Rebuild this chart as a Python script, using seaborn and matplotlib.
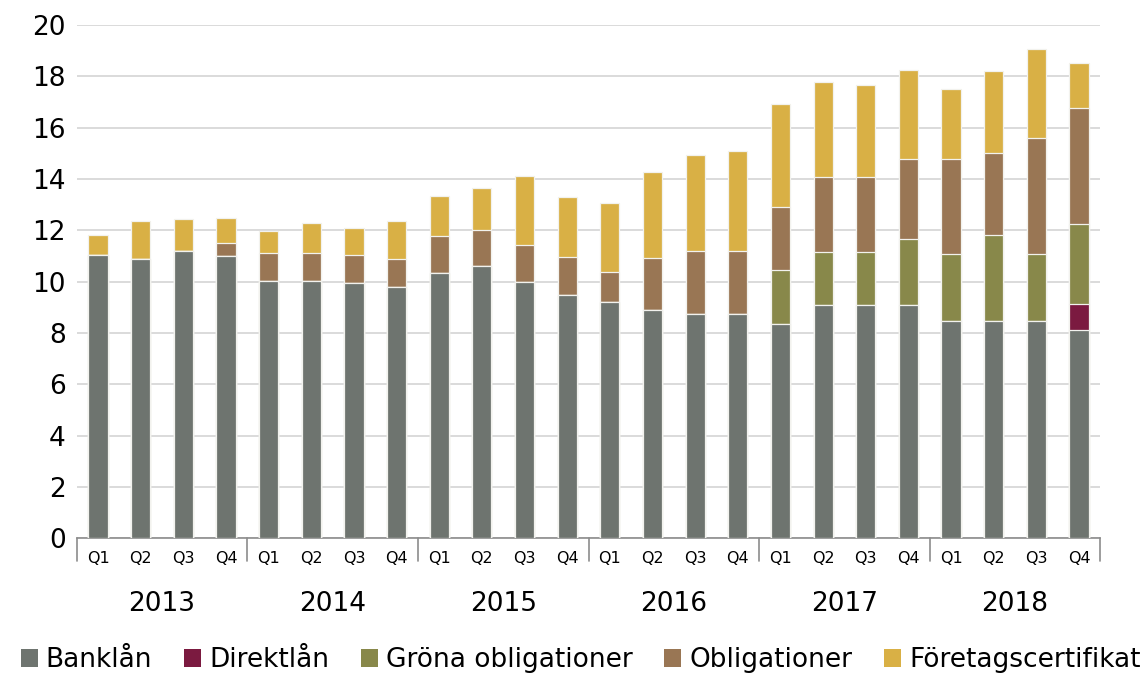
#!/usr/bin/env python3
"""Finansiering per kvartal 2013-2018, staplade staplar (mdkr)."""

import pandas as pd
import matplotlib.pyplot as plt
import matplotlib.transforms as mtransforms
from matplotlib.patches import Patch
import seaborn as sns

# ── data ────────────────────────────────────────────────────────────────
years = ['2013', '2014', '2015', '2016', '2017', '2018']
quarters = ['Q1', 'Q2', 'Q3', 'Q4']

banklan = [11.05, 10.88, 11.18, 10.99, 10.01, 10.01, 9.94, 9.79,
           10.32, 10.59, 9.97, 9.49, 9.20, 8.89, 8.73, 8.73,
           8.36, 9.07, 9.07, 9.07, 8.47, 8.45, 8.47, 8.10]
direktlan = [0] * 23 + [1.02]
grona = [0] * 16 + [2.10, 2.09, 2.09, 2.59, 2.60, 3.38, 2.61, 3.12]
obligationer = [0, 0, 0, 0.51, 1.09, 1.09, 1.11, 1.09,
                1.47, 1.44, 1.45, 1.47, 1.16, 2.05, 2.45, 2.46,
                2.46, 2.91, 2.91, 3.12, 3.72, 3.19, 4.50, 4.51]
foretagscert = [0.78, 1.48, 1.26, 0.97, 0.88, 1.19, 1.05, 1.47,
                1.53, 1.60, 2.71, 2.32, 2.70, 3.32, 3.75, 3.90,
                4.00, 3.70, 3.59, 3.48, 2.70, 3.19, 3.47, 1.78]

series = ['Banklån', 'Direktlån', 'Gröna obligationer', 'Obligationer', 'Företagscertifikat']
colors = ['#6e746f', '#7b1a40', '#88884a', '#997654', '#d9b045']

periods = [f'{y} {q}' for y in years for q in quarters]
df = pd.DataFrame({'period': periods, 'Banklån': banklan, 'Direktlån': direktlan,
                   'Gröna obligationer': grona, 'Obligationer': obligationer,
                   'Företagscertifikat': foretagscert})

# kumulativa nivåer för stapling
cum = df[series].cumsum(axis=1)

sns.set_theme(style='white')
plt.rcParams['font.family'] = ['DejaVu Sans']
plt.rcParams['text.color'] = 'black'
plt.rcParams['xtick.color'] = 'black'
plt.rcParams['ytick.color'] = 'black'

fig = plt.figure(figsize=(11.45, 6.77), dpi=100)
ax = fig.add_axes([0.067, 0.205, 0.894, 0.758])

# rita från översta lagret nedåt så att lägre lager täcker
for name, col in reversed(list(zip(series, colors))):
    sns.barplot(x=df['period'], y=cum[name], order=periods, color=col,
                width=0.45, edgecolor='#f2f2ee', linewidth=0.9,
                saturation=1, ax=ax, zorder=3)

ax.set_ylim(0, 20)
ax.set_xlim(-0.5, len(periods) - 0.5)
ax.set_yticks(range(0, 21, 2))
ax.tick_params(axis='y', labelsize=19, length=0, pad=8, labelcolor='black')
ax.yaxis.grid(True, color='#d4d4d4', linewidth=1.2, zorder=0)
ax.set_axisbelow(True)
ax.set_xlabel('')
ax.set_ylabel('')

for side in ['left', 'right', 'top']:
    ax.spines[side].set_visible(False)
ax.spines['bottom'].set_color('#8c8c8c')
ax.spines['bottom'].set_linewidth(1.2)

ax.set_xticks(range(len(periods)))
ax.set_xticklabels(quarters * len(years), fontsize=11.5)
ax.tick_params(axis='x', length=0, pad=9, labelcolor='black')

# årsavgränsare och årsetiketter
trans = mtransforms.blended_transform_factory(ax.transData, ax.transAxes)
for i in range(len(years) + 1):
    x = i * 4 - 0.5
    ax.plot([x, x], [0, -0.045], transform=trans, color='#8c8c8c',
            linewidth=1.2, clip_on=False)
for i, y in enumerate(years):
    ax.text(i * 4 + 1.5, -0.128, y, transform=trans, ha='center', va='center',
            fontsize=19, color='black')

handles = [Patch(facecolor=c, edgecolor='none', label=s) for s, c in zip(series, colors)]
fig.legend(handles=handles, loc='center', bbox_to_anchor=(0.507, 0.025), ncol=5,
           frameon=False, fontsize=19, handlelength=0.65, handleheight=0.65,
           handletextpad=0.3, columnspacing=1.2, labelcolor='black')

fig.savefig('out.png', dpi=100)
